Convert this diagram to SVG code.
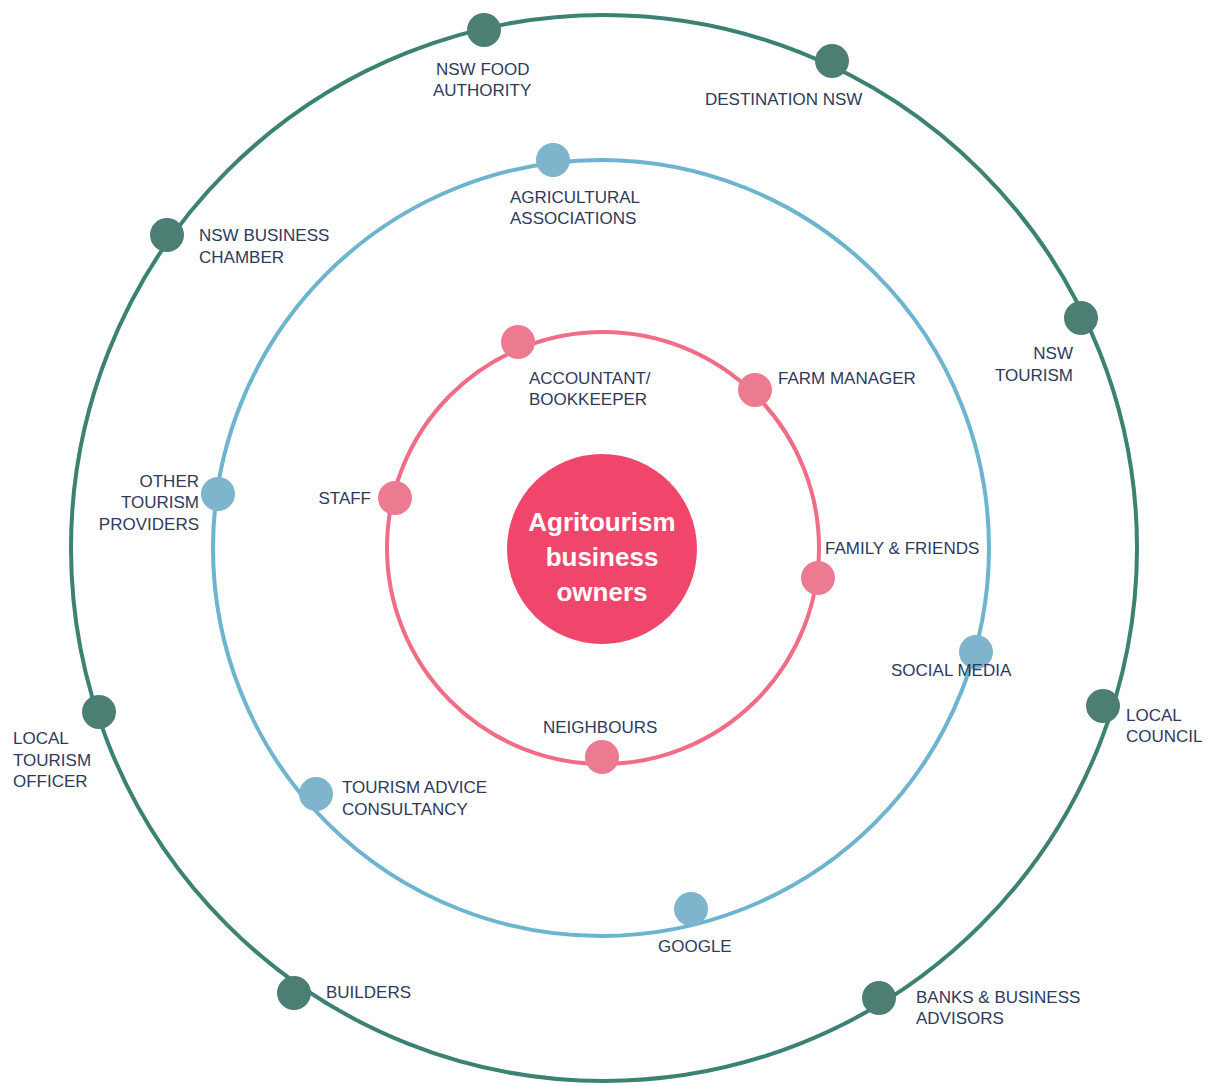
<svg xmlns="http://www.w3.org/2000/svg" width="1216" height="1086" viewBox="0 0 1216 1086">
<style>
.lbl{font-family:"Liberation Sans",Arial,sans-serif;font-size:17px;fill:#2e3a5c}
.r{text-anchor:end}
.ring{fill:none;stroke-width:4}
.outer{stroke:#3b8273}
.mid{stroke:#6cb4cf}
.inner{stroke:#f06c87}
.no{fill:#4d7e73}
.nm{fill:#7fb4cd}
.ni{fill:#ec7a91}
.ctr{font-family:"Liberation Sans",Arial,sans-serif;font-size:26px;font-weight:bold;fill:#fff;text-anchor:middle}
</style>
<rect width="1216" height="1086" fill="#fff"/>
<g id="connectors">
<circle class="ring outer" cx="604" cy="548" r="533"/>
<circle class="ring mid" cx="601" cy="548" r="388"/>
<circle class="ring inner" cx="603" cy="548" r="216"/>
</g>
<g id="center"><circle cx="602" cy="549" r="95" fill="#f0466b"/>
<text class="ctr" x="602" y="531">Agritourism</text>
<text class="ctr" x="602" y="566">business</text>
<text class="ctr" x="602" y="601">owners</text></g>
<g id="nsw-food"><circle class="no" cx="484" cy="30" r="17"/><text class="lbl" x="436" y="75">NSW FOOD</text><text class="lbl" x="433" y="96">AUTHORITY</text></g>
<g id="destination-nsw"><circle class="no" cx="832" cy="61" r="17"/><text class="lbl" x="705" y="105">DESTINATION NSW</text></g>
<g id="nsw-business"><circle class="no" cx="167" cy="235" r="17"/><text class="lbl" x="199" y="241">NSW BUSINESS</text><text class="lbl" x="199" y="263">CHAMBER</text></g>
<g id="nsw-tourism"><circle class="no" cx="1081" cy="318" r="17"/><text class="lbl r" x="1073" y="359">NSW</text><text class="lbl r" x="1073" y="381">TOURISM</text></g>
<g id="local-council"><circle class="no" cx="1103" cy="706" r="17"/><text class="lbl" x="1126" y="721">LOCAL</text><text class="lbl" x="1126" y="742">COUNCIL</text></g>
<g id="local-tourism"><circle class="no" cx="99" cy="712" r="17"/><text class="lbl" x="13" y="744">LOCAL</text><text class="lbl" x="13" y="766">TOURISM</text><text class="lbl" x="13" y="787">OFFICER</text></g>
<g id="builders"><circle class="no" cx="294" cy="993" r="17"/><text class="lbl" x="326" y="998">BUILDERS</text></g>
<g id="banks"><circle class="no" cx="879" cy="998" r="17"/><text class="lbl" x="916" y="1003">BANKS &amp; BUSINESS</text><text class="lbl" x="916" y="1024">ADVISORS</text></g>
<g id="agricultural"><circle class="nm" cx="553" cy="160" r="17"/><text class="lbl" x="510" y="203">AGRICULTURAL</text><text class="lbl" x="510" y="224">ASSOCIATIONS</text></g>
<g id="other-tourism"><circle class="nm" cx="218" cy="494" r="17"/><text class="lbl r" x="199" y="487">OTHER</text><text class="lbl r" x="199" y="508">TOURISM</text><text class="lbl r" x="199" y="530">PROVIDERS</text></g>
<g id="social-media"><circle class="nm" cx="976" cy="652" r="17"/><text class="lbl" x="891" y="676">SOCIAL MEDIA</text></g>
<g id="tourism-advice"><circle class="nm" cx="316" cy="794" r="17"/><text class="lbl" x="342" y="793">TOURISM ADVICE</text><text class="lbl" x="342" y="815">CONSULTANCY</text></g>
<g id="google"><circle class="nm" cx="691" cy="909" r="17"/><text class="lbl" x="658" y="952">GOOGLE</text></g>
<g id="accountant"><circle class="ni" cx="518" cy="342" r="17"/><text class="lbl" x="529" y="384">ACCOUNTANT/</text><text class="lbl" x="529" y="405">BOOKKEEPER</text></g>
<g id="farm-manager"><circle class="ni" cx="755" cy="390" r="17"/><text class="lbl" x="778" y="384">FARM MANAGER</text></g>
<g id="staff"><circle class="ni" cx="395" cy="498" r="17"/><text class="lbl r" x="371" y="504">STAFF</text></g>
<g id="family"><circle class="ni" cx="818" cy="578" r="17"/><text class="lbl" x="825" y="554">FAMILY &amp; FRIENDS</text></g>
<g id="neighbours"><circle class="ni" cx="602" cy="757" r="17"/><text class="lbl" x="543" y="733">NEIGHBOURS</text></g>
</svg>
